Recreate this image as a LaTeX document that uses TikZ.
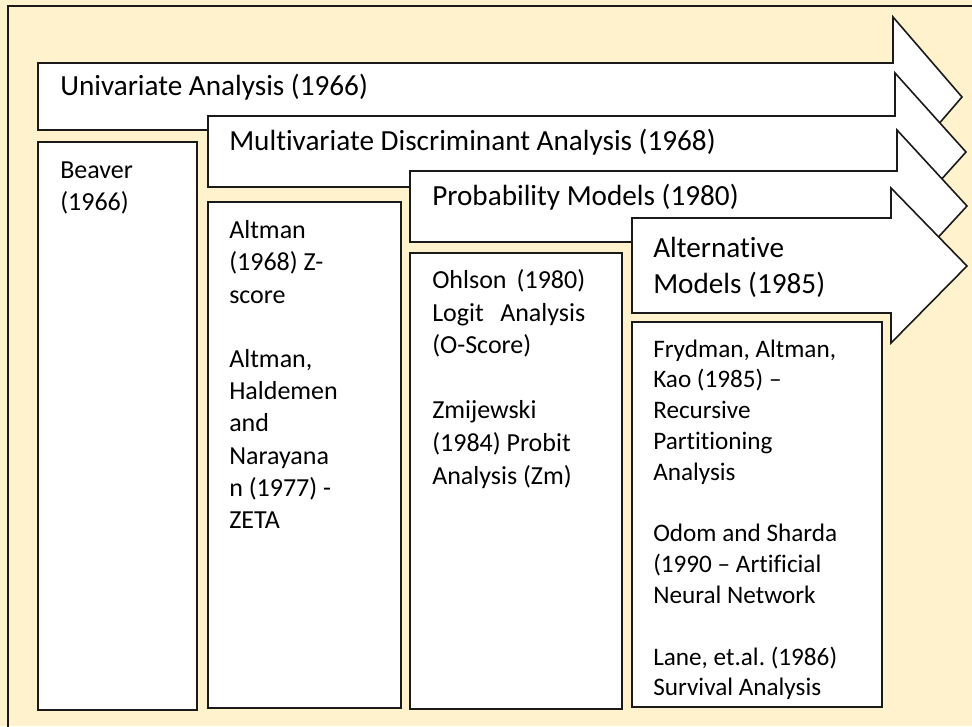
\documentclass[tikz,border=0pt]{standalone}
\usepackage{fontspec}
\setmainfont{Carlito}[Ligatures=NoCommon]
\frenchspacing
\definecolor{cream}{HTML}{FFF2CC}
\definecolor{edge}{HTML}{1A1A1A}

\begin{document}
\begin{tikzpicture}[
  x=0.75pt, y=-0.75pt,
  band/.style={draw=edge, fill=white, line width=1.2pt, line join=miter},
  colbox/.style={draw=edge, fill=white, line width=1.4pt},
  bandtext/.style={anchor=base west, inner sep=0pt, font=\fontsize{21.9}{26.6}\selectfont},
  coltext/.style={anchor=north west, inner sep=0pt, align=left}
]
\useasboundingbox (0,0) rectangle (972,726);
\clip (0,0) rectangle (972,726);
\fill[cream] (0,0) rectangle (972,726);
\draw[edge, line width=1.4pt] (8,740) -- (8,6) -- (990,6);

% timeline arrows
\draw[band] (38,63) -- (893,63) -- (893,17) -- (962,97) -- (893,177) -- (893,130) -- (38,130) -- cycle;
\draw[band] (208,116) -- (895,116) -- (895,73) -- (966,152) -- (895,231) -- (895,187) -- (208,187) -- cycle;
\draw[band] (410,171) -- (897,171) -- (897,130) -- (967,206) -- (897,282) -- (897,242) -- (410,242) -- cycle;
\draw[band] (632,218) -- (891,218) -- (891,188) -- (967,266) -- (891,343) -- (891,313) -- (632,313) -- cycle;

\node[bandtext] (uni) at (60,95) {Univariate Analysis (1966)};
\node[bandtext] (mda) at (229,150.5) {Multivariate Discriminant Analysis (1968)};
\node[bandtext] (prob) at (432,205) {Probability Models (1980)};
\node[coltext, font=\fontsize{21.9}{26.6}\selectfont] (alt) at (653,232.85)
  {\strut Alternative\\Models (1985)};

% columns
\draw[colbox] (38,142) rectangle (197,710);
\draw[colbox] (208,202) rectangle (401,708);
\draw[colbox] (410,253) rectangle (622,709);
\draw[colbox] (632,322) rectangle (882,707);

\node[coltext, font=\fontsize{19.5}{23.6}\selectfont] (beaver) at (60,156.25)
  {\strut Beaver\\(1966)};
\node[coltext, font=\fontsize{19.5}{24.15}\selectfont] (altman) at (229,215.8)
  {\strut Altman\\(1968) Z-\\score\\[24.15pt]Altman,\\Haldemen\\and\\Narayana\\n (1977) -\\ZETA};
\node[coltext, font=\fontsize{19.5}{24.45}\selectfont] (ohlson) at (432,265.5)
  {\strut\makebox[114.75pt][s]{Ohlson (1980)}\\\makebox[114.75pt][s]{Logit Analysis}\\(O-Score)\\[24.45pt]Zmijewski\\(1984) Probit\\Analysis (Zm)};
\node[coltext, font=\fontsize{18.9}{23.1}\selectfont] (frydman) at (653,335.2)
  {\strut Frydman, Altman,\\Kao (1985) –\\Recursive\\Partitioning\\Analysis\\[23.1pt]Odom and Sharda\\(1990 – Artificial\\Neural Network\\[23.1pt]Lane, et.al. (1986)\\Survival Analysis};

\end{tikzpicture}
\end{document}
